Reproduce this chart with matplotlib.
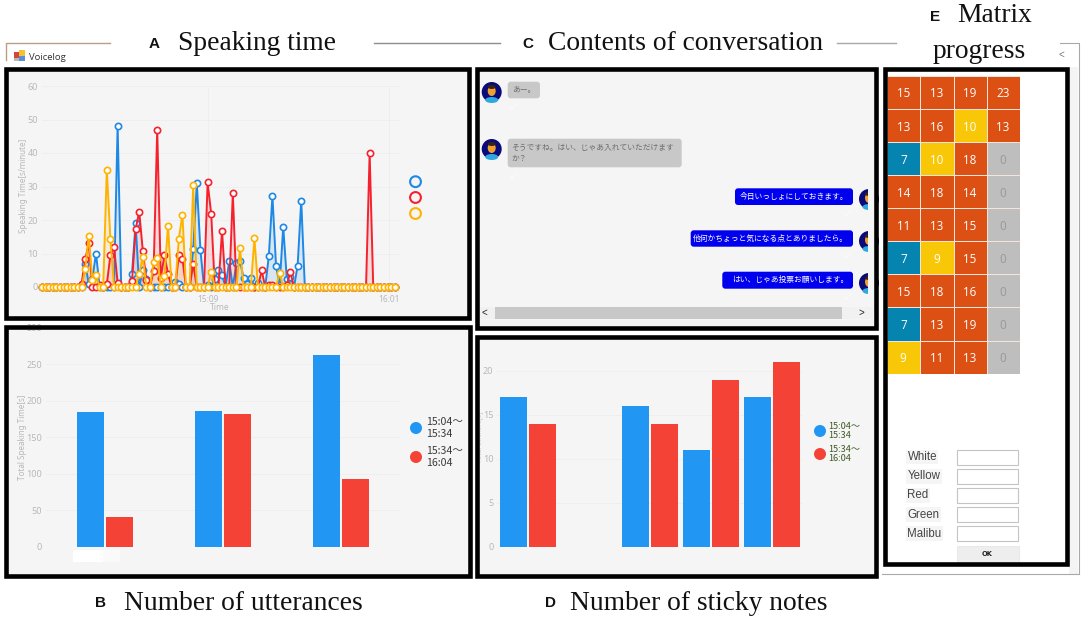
import numpy as np
import matplotlib
matplotlib.use("Agg")
import matplotlib.pyplot as plt
from matplotlib.colors import ListedColormap
from matplotlib.patches import Rectangle, Circle, FancyBboxPatch, Ellipse

W, H = 1084, 620
JP = ["Noto Sans CJK JP", "DejaVu Sans"]
SERIF = "Liberation Serif"
SANS = "Liberation Sans"

# -----------------------------
# Data
# -----------------------------
n_points = 99
blue_pts = {12: 7, 13: .8, 14: 2.5, 15: 10, 21: 48, 25: 4, 26: 19, 28: 5, 29: 2.5,
            37: 1.5, 38: 1, 42: 11.3, 43: 31, 44: 11, 46: .5, 48: 2.5, 49: 5, 50: 3.5,
            52: 7.7, 54: 7.2, 55: 7.7, 56: 2.7, 57: 1, 58: 2.7, 60: 1.3, 63: 9.2,
            64: 27.2, 65: 6.3, 66: .5, 67: 18, 68: 2.3, 69: 3, 71: 6.4, 72: 25.8}
red_pts = {11: 1, 12: 8.3, 13: 13, 16: .5, 18: .8, 19: 9.5, 20: 12, 21: 1.3, 25: 1.7,
           26: 17.2, 27: 22.5, 28: 10.8, 29: 2, 31: 4.8, 32: 47, 33: 2.8, 34: 9.5, 35: 4,
           38: 9.5, 39: 8.4, 42: 6.8, 46: 31.2, 47: 21.8, 50: 16.8, 53: 28, 61: 5,
           63: .7, 64: .7, 68: .7, 69: 4.4, 91: 40}
yellow_pts = {12: 5.4, 13: 15.2, 14: 2.2, 15: 3.7, 18: 35, 19: 14.2, 27: 4, 28: 9,
              31: 7.4, 32: 8.8, 34: 3.2, 35: 18.3, 38: 14.3, 39: 21.6, 42: 30.3, 47: 4.5,
              55: 11.6, 59: 14.5, 66: 4.3}

utter_blue = [184, 186, 263]
utter_red = [41, 181, 92]

notes_blue = [17, 0, 16, 11, 17]
notes_red = [14, 0, 14, 19, 21]

matrix = [[15, 13, 19, 23],
          [13, 16, 10, 13],
          [7, 10, 18, 0],
          [14, 18, 14, 0],
          [11, 13, 15, 0],
          [7, 9, 15, 0],
          [15, 18, 16, 0],
          [7, 13, 19, 0],
          [9, 11, 13, 0]]

form_labels = ["White", "Yellow", "Red", "Green", "Malibu"]

left_msgs = ["あー。", "そうですね。はい、じゃあ入れていただけます\nか？"]
right_msgs = ["今日いっしょにしておきます。", "他何かちょっと気になる点とありましたら。", "はい、じゃあ投票お願いします。"]

C_BLUE, C_RED, C_YEL = "#1E88E5", "#F5222D", "#FFB300"
B_BLUE, B_RED = "#2196F3", "#F44336"
PANEL = "#F5F5F5"
TICK = "#B8B8B8"

fig = plt.figure(figsize=(W / 100, H / 100), dpi=100, facecolor="white")


def px_axes(x0, y0, x1, y1, z):
    ax = fig.add_axes([x0 / W, 1 - y1 / H, (x1 - x0) / W, (y1 - y0) / H], zorder=z)
    ax.patch.set_alpha(0)
    return ax


def overlay(z):
    ax = fig.add_axes([0, 0, 1, 1], zorder=z)
    ax.set_xlim(0, W)
    ax.set_ylim(H, 0)
    ax.axis("off")
    ax.patch.set_alpha(0)
    return ax


def style_chart(ax):
    for s in ax.spines.values():
        s.set_visible(False)
    ax.tick_params(length=0, labelsize=6.5, labelcolor=TICK, pad=3)
    ax.set_axisbelow(True)
    for t in ax.get_yticklabels() + ax.get_xticklabels():
        t.set_family("Noto Sans")


back = overlay(0)
top = overlay(5)

# -----------------------------
# Panel backgrounds and window
# -----------------------------
for x0, y0, x1, y1 in [(6, 69, 469, 318), (6, 326, 470, 576), (477, 69, 875, 328), (477, 337, 876, 576)]:
    back.add_patch(Rectangle((x0, y0), x1 - x0, y1 - y0, fc=PANEL, ec="none"))
back.add_patch(Rectangle((1069, 67), 9, 507, fc="#F4F4F4", ec="none"))

# window outline and title lines
back.plot([6, 6, 110], [60, 43, 43], color="#B89F85", lw=1)
back.plot([374, 500], [43, 43], color="#8E8E8E", lw=1)
back.plot([837, 896], [43, 43], color="#A8A8A8", lw=1)
back.plot([1060, 1079, 1079, 882], [43, 43, 574, 574], color="#A8A8A8", lw=.8)
top.text(1061, 55, "<", fontsize=7, color="#777777", ha="center", va="center", family=SANS)

# icon + window title
for x, y, w, h, c in [(14, 52, 5, 6, "#D9443A"), (19, 50, 6, 6, "#F2C230"), (19, 56, 6, 5, "#5A8FD8"), (14, 58, 5, 3, "#B8B8B8")]:
    back.add_patch(Rectangle((x, y), w, h, fc=c, ec="none"))
back.text(29, 57, "Voicelog", fontsize=6.8, color="#333333", va="center", family="Open Sans")

# -----------------------------
# A: speaking time
# -----------------------------
ax = px_axes(42, 86, 398.8, 287, 2)
xs = np.arange(n_points)
for pts, c in [(blue_pts, C_BLUE), (red_pts, C_RED), (yellow_pts, C_YEL)]:
    ys = np.zeros(n_points)
    for k, v in pts.items():
        ys[k] = v
    ax.fill_between(xs, ys, color=c, alpha=.13, lw=0, clip_on=False)
    ax.plot(xs, ys, color=c, lw=1.4, marker="o", ms=4.5, mfc="white", mec=c, mew=1.2,
            clip_on=False, solid_joinstyle="miter")
ax.set_xlim(0, 99.1)
ax.set_ylim(0, 60)
ax.set_yticks(range(0, 61, 10))
ax.set_xticks([46, 96.4])
ax.set_xticklabels(["15:09", "16:01"])
ax.grid(color="#EDEDED", lw=.6)
style_chart(ax)
ax.tick_params(axis="x", pad=6, labelsize=6)
top.text(220, 307, "Time", fontsize=6, color=TICK, ha="center", va="center", family="Noto Sans")
top.text(23.5, 186, "Speaking Time[s/minute]", fontsize=5.8, color=TICK, rotation=90,
         ha="center", va="center", family="Noto Sans")
for y, c in [(181.7, C_BLUE), (197.5, C_RED), (213.5, C_YEL)]:
    top.add_patch(Circle((415.5, y), 5.4, fc="none", ec=c, lw=1.5))

# -----------------------------
# B: number of utterances
# -----------------------------
ax = px_axes(46, 327.5, 400, 546.7, 2)
x = np.arange(len(utter_blue))
ax.bar(x - .123, utter_blue, .235, color=B_BLUE)
ax.bar(x + .123, utter_red, .235, color=B_RED)
ax.set_xlim(-.5, 2.5)
ax.set_ylim(0, 300)
ax.set_yticks(range(0, 301, 50))
ax.set_xticks([])
ax.grid(axis="y", color="#EDEDED", lw=.6)
style_chart(ax)
top.text(23, 437, "Total Speaking Time[s]", fontsize=5.8, color=TICK, rotation=90,
         ha="center", va="center", family="Noto Sans")
back.add_patch(Rectangle((73, 550), 30, 12, fc="white", ec="none"))
back.add_patch(Rectangle((103, 550), 17, 12, fc="#FAFAFA", ec="none"))
for y, c, t in [(428, B_BLUE, "15:04〜\n15:34"), (457, B_RED, "15:34〜\n16:04")]:
    top.add_patch(Circle((416, y), 6, fc=c, ec="none"))
    top.text(426.5, y, t, fontsize=7.6, color="#3C3C3C", va="center", linespacing=1.25, family=JP)

# -----------------------------
# D: number of sticky notes
# -----------------------------
ax = px_axes(497.5, 327, 802.5, 546.7, 2)
x = np.arange(len(notes_blue))
ax.bar(x - .238, notes_blue, .45, color=B_BLUE)
ax.bar(x + .238, notes_red, .45, color=B_RED)
ax.set_xlim(-.5, 4.5)
ax.set_ylim(0, 25)
ax.set_yticks(range(0, 21, 5))
ax.set_xticks([])
ax.grid(axis="y", color="#EDEDED", lw=.6)
style_chart(ax)
back.text(480, 437, "Total Stickers[s]", fontsize=5, color="#C8C8C8", rotation=90,
          ha="center", va="center", family="Noto Sans")
for y, c, t in [(431, B_BLUE, "15:04〜\n15:34"), (454, B_RED, "15:34〜\n16:04")]:
    top.add_patch(Circle((820, y), 6, fc=c, ec="none"))
    top.text(828.5, y, t, fontsize=6.6, color="#3E5A22", va="center", linespacing=1.05, family=JP)

# -----------------------------
# C: conversation
# -----------------------------


def avatar(ax, cx, cy):
    ax.add_patch(Circle((cx, cy), 10, fc="#0A0A78", ec="none"))
    ax.add_patch(Ellipse((cx, cy + 8), 13, 6, fc="#2FA8E0", ec="none"))
    ax.add_patch(Ellipse((cx, cy - 1), 8, 10, fc="#F0A030", ec="none"))
    ax.add_patch(Ellipse((cx, cy - 5), 8, 4, fc="#3A2410", ec="none"))


def bubble(ax, x0, y0, x1, y1, fc):
    ax.add_patch(FancyBboxPatch((x0 + 2, y0 + 2), x1 - x0 - 4, y1 - y0 - 4,
                                boxstyle="round,pad=2,rounding_size=3", fc=fc, ec="none"))


def check(ax, x, y):
    ax.plot([x, x + 2, x + 7], [y, y + 3, y - 3], color="#FCFCFC", lw=.6)


left_boxes = [(507.7, 81.7, 540, 98.3), (507.7, 138.7, 681.7, 167.3)]
for m, b, ay in zip(left_msgs, left_boxes, [92, 149]):
    avatar(back, 491.7, ay)
    bubble(back, *b, "#C8C8C8")
    back.text(b[0] + 4, (b[1] + b[3]) / 2, m, fontsize=5.6, color="#6E6E6E", va="center",
              linespacing=1.5, family=JP)
    check(back, b[0] + 2, b[3] + 8)

right_boxes = [(735, 188.3, 853, 205), (690.7, 230.3, 853, 246.7), (722.3, 271.7, 853, 288.7)]
for m, b, ay in zip(right_msgs, right_boxes, [199, 241, 283]):
    avatar(back, 869, ay)
    bubble(back, *b, "#0000EE")
    back.text(b[2] - 5, (b[1] + b[3]) / 2, m, fontsize=5.6, color="white", va="center", ha="right",
              family=JP)
    check(back, b[2] - 9, b[3] + 8)
back.add_patch(Rectangle((868, 69), 7, 259, fc=PANEL, ec="none"))

back.add_patch(Rectangle((479, 307), 394, 12, fc="#F1F1F1", ec="none"))
back.add_patch(Rectangle((495, 307), 347, 12, fc="#C8C8C8", ec="none"))
back.text(484, 313, "<", fontsize=7, color="#222222", ha="center", va="center", family=SANS)
back.text(861, 313, ">", fontsize=7, color="#222222", ha="center", va="center", family=SANS)

# -----------------------------
# E: matrix progress
# -----------------------------
vals = np.array(matrix)
kinds = np.select([vals == 0, vals <= 7, vals <= 10], [0, 1, 2], 3)
cmap = ListedColormap(["#BEBEBE", "#0484AE", "#F8C808", "#DC5014"])
ax = px_axes(887.3, 75.7, 1020, 373.6, 2)
ax.pcolormesh(kinds, cmap=cmap, vmin=-.5, vmax=3.5, edgecolors="#F3E4DC", linewidth=.5)
ax.set_ylim(len(matrix), 0)
ax.axis("off")
for r, row in enumerate(matrix):
    for c, v in enumerate(row):
        ax.text(c + .48, r + .55, str(v), ha="center", va="center", fontsize=8.4, family="Open Sans",
                color="#999999" if v == 0 else "white")

for i, lab in enumerate(form_labels):
    y = 457 + i * 19.2
    t = back.text(907.5, y, lab, fontsize=8.3, color="#444444", va="center", family=SANS,
                  bbox=dict(fc="#F5F5F5", ec="none", pad=1))
    back.add_patch(Rectangle((957, y - 7.5), 61, 15, fc="white", ec="#C4C4C4", lw=.8))
back.add_patch(Rectangle((957, 546), 62, 18, fc="#EEEEEE", ec="#E2E2E2", lw=.5))
back.text(987.5, 554, "OK", fontsize=4.8, weight="bold", color="#222222", ha="center", va="center", family="DejaVu Sans")

# -----------------------------
# Frames
# -----------------------------
for x0, y0, x1, y1 in [(6, 69, 469, 318), (6, 326.5, 470, 576), (476.5, 69, 875.5, 328),
                       (476.5, 337, 875.5, 576), (885, 69, 1067, 564)]:
    top.add_patch(Rectangle((x0, y0), x1 - x0, y1 - y0, fc="none", ec="black", lw=3.3, joinstyle="miter"))

# -----------------------------
# Titles
# -----------------------------
titles = [("A", 154.5, 44, "Speaking time", 178, 43), ("C", 528, 44, "Contents of conversation", 548, 43),
          ("B", 100, 603, "Number of utterances", 124, 603), ("D", 550, 603, "Number of sticky notes", 570, 603)]
for letter, lx, ly, txt, tx, ty in titles:
    top.text(lx, ly, letter, fontsize=11, weight="bold", family=SANS, ha="center", va="center", color="#111111")
    top.text(tx, ty, txt, fontsize=19.8, family=SERIF, va="center", color="#111111")
top.text(935, 17, "E", fontsize=11, weight="bold", family=SANS, ha="center", va="center", color="#111111")
top.text(957, 16, "Matrix", fontsize=19.8, family=SERIF, va="center", color="#111111")
top.text(933, 51, "progress", fontsize=19.8, family=SERIF, va="center", color="#111111")

fig.savefig("out.png", dpi=100)
